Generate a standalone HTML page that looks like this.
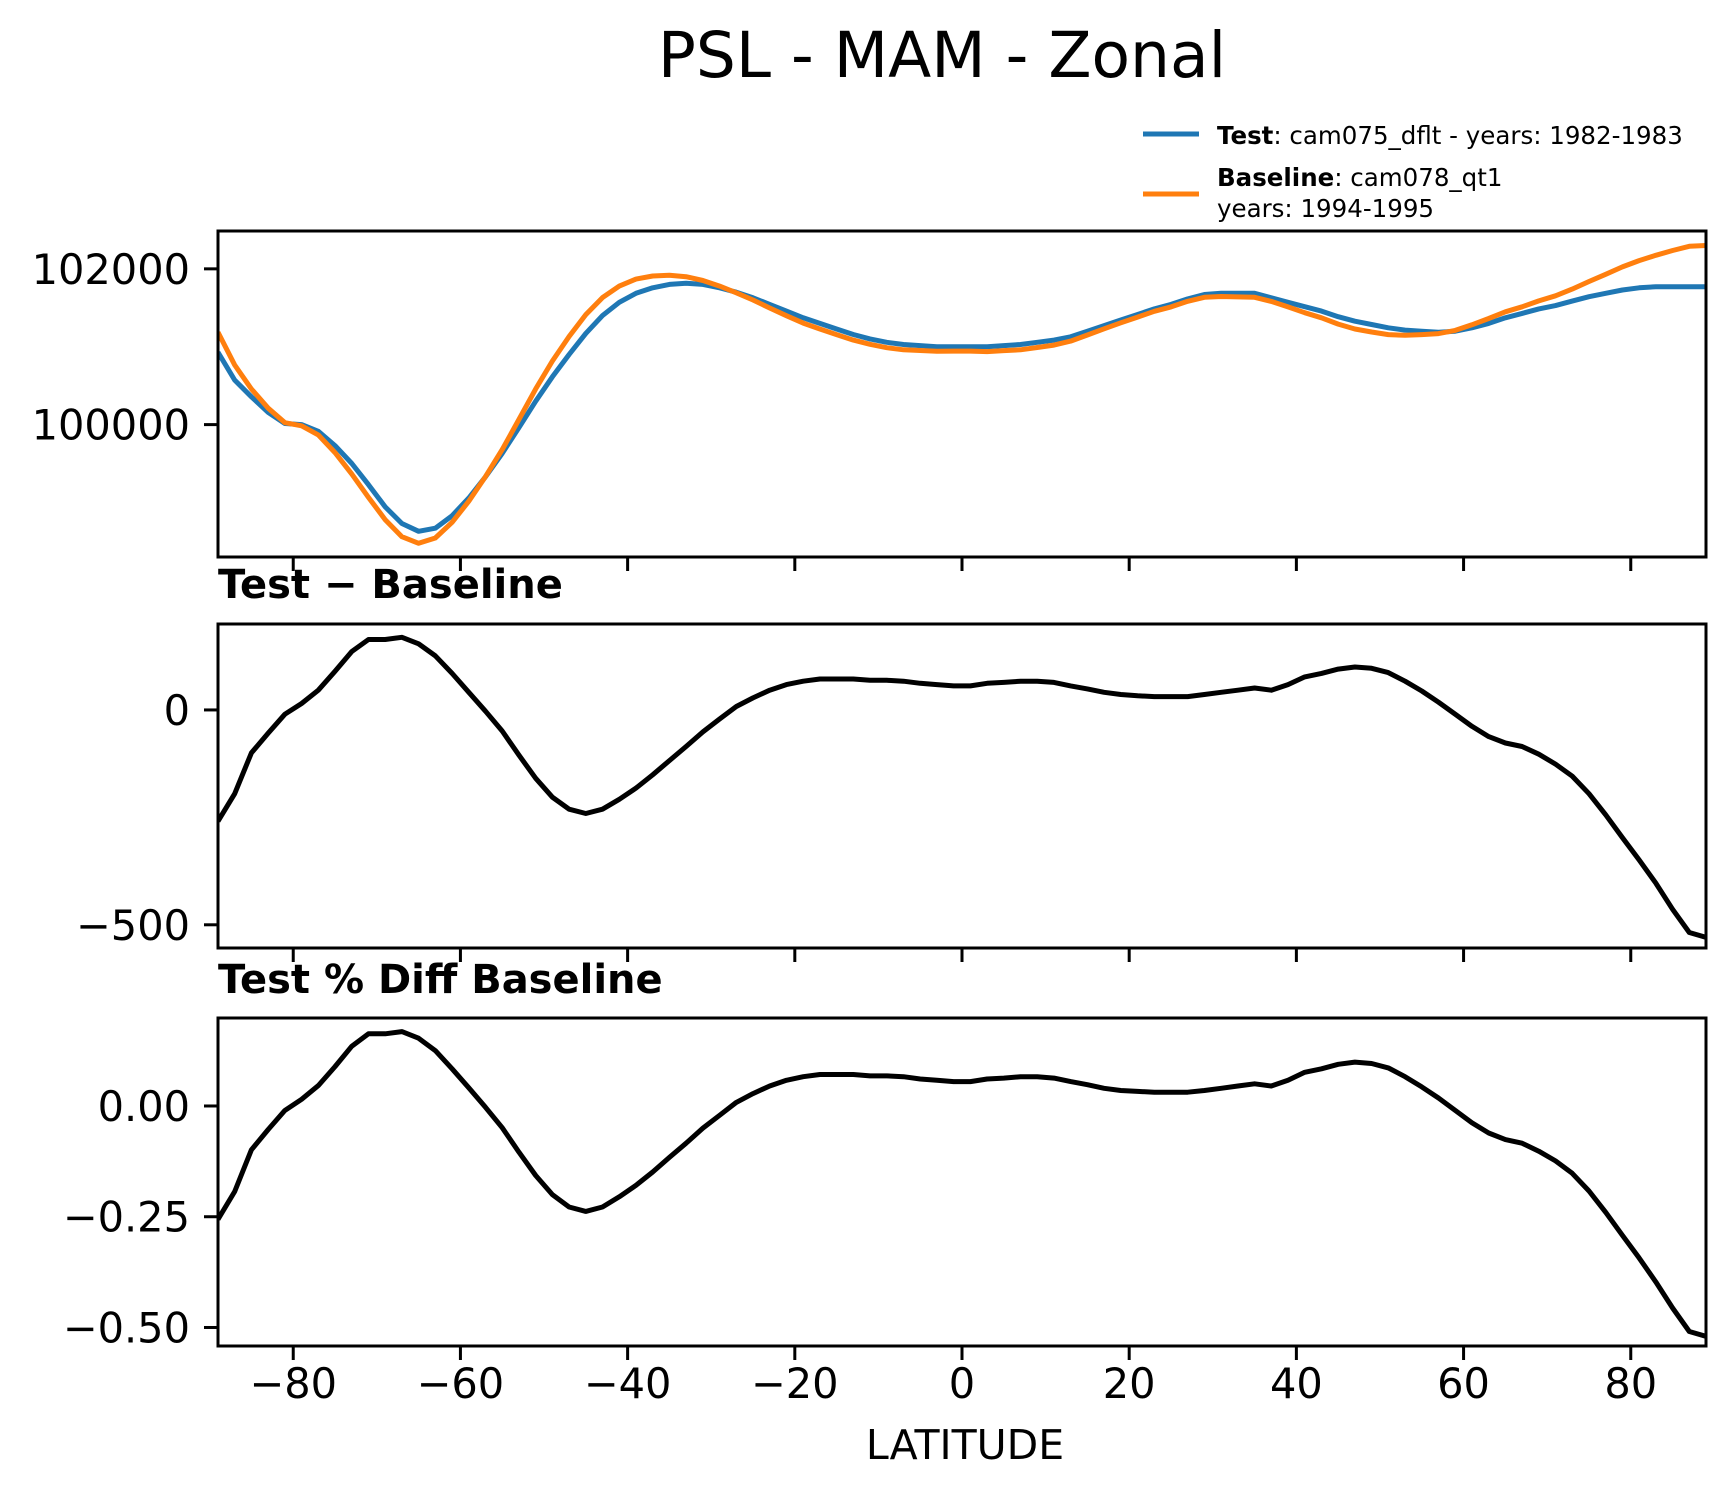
<!DOCTYPE html>
<html><head><meta charset="utf-8"><style>
html,body{margin:0;padding:0;background:#fff}
svg{display:block;font-family:"DejaVu Sans","Liberation Sans",sans-serif}
</style></head><body>
<svg id="chart" width="1736" height="1496" viewBox="0 0 1736 1496" xmlns="http://www.w3.org/2000/svg">
<rect width="1736" height="1496" fill="#fff"/>
<text x="942" y="77" font-size="63" text-anchor="middle">PSL - MAM - Zonal</text>
<g>
  <line x1="1143" y1="134" x2="1199" y2="134" stroke="#1f77b4" stroke-width="5"/>
  <text x="1217" y="144" font-size="24.5"><tspan font-weight="bold">Test</tspan>: cam075_dflt - years: 1982-1983</text>
  <line x1="1143" y1="194" x2="1199" y2="194" stroke="#ff7f0e" stroke-width="5"/>
  <text x="1217" y="186" font-size="24.5"><tspan font-weight="bold">Baseline</tspan>: cam078_qt1</text>
  <text x="1217" y="217" font-size="24.5">years: 1994-1995</text>
</g>
<text x="218" y="598" font-size="40" font-weight="bold">Test − Baseline</text>
<text x="218" y="993" font-size="40" font-weight="bold">Test % Diff Baseline</text>
<text x="965" y="1459" font-size="41" text-anchor="middle">LATITUDE</text>
<g id="plots"></g>
</svg>
<script>
const lats = [];
for (let v = -89; v <= 89; v += 2) lats.push(v);
const testVals = [100928,100571,100357,100157,100014,100000,99914,99730,99500,99229,98943,98730,98630,98670,98830,99057,99330,99630,99960,100300,100614,100900,101171,101400,101571,101686,101757,101800,101814,101800,101757,101700,101628,101543,101457,101371,101300,101228,101157,101100,101057,101028,101014,101000,101000,101000,101000,101014,101028,101057,101085,101128,101200,101271,101343,101414,101486,101543,101614,101671,101686,101686,101686,101628,101571,101514,101457,101386,101328,101286,101243,101214,101200,101186,101200,101243,101300,101371,101428,101486,101528,101586,101643,101686,101728,101757,101771,101771,101771,101771];
const baseVals = [101187,100766,100457,100211,100024,99985,99868,99640,99364,99065,98779,98561,98476,98544,98745,99016,99333,99679,100065,100459,100817,101131,101412,101631,101779,101868,101908,101918,101899,101851,101778,101692,101600,101497,101398,101304,101228,101156,101085,101031,100988,100961,100952,100941,100944,100944,100938,100950,100961,100990,101021,101072,101151,101230,101307,101381,101455,101512,101583,101635,101645,101640,101635,101582,101512,101437,101372,101291,101228,101189,101156,101147,101156,101168,101210,101281,101362,101448,101513,101589,101654,101740,101838,101930,102025,102106,102174,102235,102289,102300];
const diffVals = [-259,-195,-100,-54,-10,15,46,90,136,164,164,169,154,126,85,41,-3,-49,-105,-159,-203,-231,-241,-231,-208,-182,-151,-118,-85,-51,-21,8,28,46,59,67,72,72,72,69,69,67,62,59,56,56,62,64,67,67,64,56,49,41,36,33,31,31,31,36,41,46,51,46,59,77,85,95,100,97,87,67,44,18,-10,-38,-62,-77,-85,-103,-126,-154,-195,-244,-297,-349,-403,-464,-518,-529];
const pctVals = [-0.256,-0.193,-0.099,-0.053,-0.010,0.015,0.046,0.089,0.135,0.163,0.163,0.168,0.153,0.125,0.084,0.041,-0.003,-0.049,-0.104,-0.157,-0.200,-0.228,-0.238,-0.228,-0.205,-0.179,-0.149,-0.116,-0.084,-0.050,-0.021,0.008,0.028,0.045,0.058,0.066,0.071,0.071,0.071,0.068,0.068,0.066,0.061,0.058,0.055,0.055,0.061,0.063,0.066,0.066,0.063,0.055,0.048,0.040,0.035,0.033,0.031,0.031,0.031,0.035,0.040,0.045,0.050,0.045,0.058,0.076,0.084,0.094,0.099,0.096,0.086,0.066,0.043,0.018,-0.010,-0.038,-0.061,-0.076,-0.084,-0.102,-0.124,-0.152,-0.192,-0.240,-0.292,-0.343,-0.397,-0.456,-0.509,-0.520];
const xTicks = [-80,-60,-40,-20,0,20,40,60,80];
const topTicks = [100000,102000];
const topTickLabels = ["100000","102000"];
const diffTicks = [-500,0];
const diffTickLabels = ["\u2212500","0"];
const pctTicks = [-0.5,-0.25,0];
const pctTickLabels = ["\u22120.50","\u22120.25","0.00"];

const NS = "http://www.w3.org/2000/svg";
const X0 = 218, X1 = 1706, LAT0 = -89, LAT1 = 89;
const xs = v => X0 + (v - LAT0) / (LAT1 - LAT0) * (X1 - X0);
const g = document.getElementById('plots');
function mk(tag, attrs, parent) {
  const e = document.createElementNS(NS, tag);
  for (const k in attrs) e.setAttribute(k, attrs[k]);
  (parent || g).appendChild(e);
  return e;
}
function panel(name, top, bot, ymin, ymax, ticks, labels, series, showX) {
  const ys = v => bot - (v - ymin) / (ymax - ymin) * (bot - top);
  const pg = mk('g', {});
  
  
  const clipId = 'clip-' + name;
  const cp = mk('clipPath', {id: clipId}, pg);
  mk('rect', {x: X0, y: top, width: X1 - X0, height: bot - top}, cp);
  series.forEach(s => {
    const d = s.vals.map((v, i) => (i ? 'L' : 'M') + xs(lats[i]).toFixed(1) + ',' + ys(v).toFixed(1)).join(' ');
    const p = mk('path', {d: d, fill: 'none', stroke: s.color, 'stroke-width': s.w, 'stroke-linejoin': 'round', 'clip-path': 'url(#' + clipId + ')'}, pg);
    
    
  });
  const fr = mk('rect', {x: X0, y: top, width: X1 - X0, height: bot - top, fill: 'none', stroke: '#000', 'stroke-width': 3}, pg);
  
  
  ticks.forEach((t, i) => {
    const y = ys(t);
    const tl = mk('line', {x1: X0 - 14, x2: X0, y1: y, y2: y, stroke: '#000', 'stroke-width': 3}, pg);
    
    
    const tx = mk('text', {x: X0 - 28, y: y + 15, 'font-size': 41.5, 'text-anchor': 'end'}, pg);
    tx.textContent = labels[i];
    
    
  });
  xTicks.forEach(t => {
    const x = xs(t);
    const tl = mk('line', {x1: x, x2: x, y1: bot, y2: bot + 14, stroke: '#000', 'stroke-width': 3}, pg);
    
    
    if (showX) {
      const tx = mk('text', {x: x, y: 1398, 'font-size': 41.5, 'text-anchor': 'middle'}, pg);
      tx.textContent = (t < 0 ? '\u2212' : '') + Math.abs(t);
      
      
    }
  });
}
panel('psl', 231, 557, 98300, 102486, topTicks, topTickLabels, [
  {vals: testVals, color: '#1f77b4', w: 5, name: 'test-line'},
  {vals: baseVals, color: '#ff7f0e', w: 5, name: 'baseline-line'}
], false);
panel('diff', 624, 948, -554, 200, diffTicks, diffTickLabels, [
  {vals: diffVals, color: '#000', w: 5, name: 'diff-line'}
], false);
panel('pct', 1018, 1346, -0.5418, 0.1986, pctTicks, pctTickLabels, [
  {vals: pctVals, color: '#000', w: 5, name: 'pct-diff-line'}
], true);
</script>
</body></html>
